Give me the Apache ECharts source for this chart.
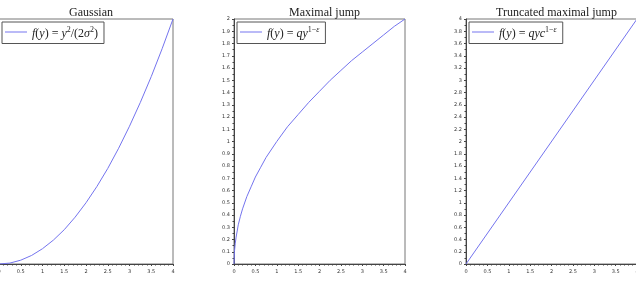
<!DOCTYPE html>
<html>
<head>
<meta charset="utf-8">
<script src="https://cdn.jsdelivr.net/npm/echarts@6/dist/echarts.min.js"></script>
<style>
  html, body { margin: 0; padding: 0; background: #fff; }
  #chart { width: 636px; height: 293px; }
</style>
</head>
<body>
<div id="chart"></div>
<script>
// values
const gaussX = [0, 0.25, 0.5, 0.75, 1, 1.25, 1.5, 1.75, 2, 2.25, 2.5, 2.75, 3, 3.25, 3.5, 3.75, 4]
const gaussY = [0, 0.03, 0.125, 0.28, 0.5, 0.78, 1.12, 1.53, 2, 2.53, 3.12, 3.78, 4.5, 5.28, 6.12, 7.03, 8]

const jumpX = [0, 0.01, 0.03, 0.05, 0.1, 0.15, 0.2, 0.3, 0.4, 0.5, 0.625, 0.75, 1, 1.25, 1.5, 1.75, 2, 2.25, 2.5, 2.75, 3, 3.25, 3.5, 3.75, 4]
const jumpY = [0, 0.1, 0.17, 0.22, 0.32, 0.39, 0.45, 0.55, 0.63, 0.71, 0.79, 0.87, 1, 1.12, 1.22, 1.32, 1.41, 1.5, 1.58, 1.66, 1.73, 1.8, 1.87, 1.94, 2]

const truncX = [0, 4]
const truncY = [0, 4]

const titles = ['Gaussian', 'Maximal jump', 'Truncated maximal jump']
const names = ['gauss', 'jump', 'trunc']

const lineColor = '#7474ee'
const serif = '"Liberation Serif", "DejaVu Serif", serif'

const rich = {
  i: { fontFamily: serif, fontStyle: 'italic', fontSize: 12, color: '#222' },
  r: { fontFamily: serif, fontSize: 12, color: '#222' },
  s: { fontFamily: serif, fontSize: 8, color: '#222', padding: [0, 0, 7, 0] },
  si: { fontFamily: serif, fontStyle: 'italic', fontSize: 8, color: '#222', padding: [0, 0, 7, 0] },
}
const legendText = {
  gauss: '{i|f}{r|(}{i|y}{r|) = }{i|y}{s|2}{r|/(2}{i|σ}{s|2}{r|)}',
  jump: '{i|f}{r|(}{i|y}{r|) = }{i|qy}{s|1−}{si|ε}',
  trunc: '{i|f}{r|(}{i|y}{r|) = }{i|qyc}{s|1−}{si|ε}',
}

const grids = [
  { left: -1, top: 19, width: 174, height: 245 },
  { left: 234, top: 19, width: 171, height: 245 },
  { left: 466, top: 19, width: 171, height: 245 },
]
const yMax = [8, 2, 4]
const yStep = [1, 0.1, 0.2]

const pair = (xs, ys) => xs.map((x, i) => [x, ys[i]])
const seriesData = [pair(gaussX, gaussY), pair(jumpX, jumpY), pair(truncX, truncY)]

const tickLabel = { fontSize: 5, color: '#333', fontFamily: 'DejaVu Sans' }

const options = {
  animation: false,
  title: titles.map((t, i) => ({
    text: t,
    left: grids[i].left + grids[i].width / 2,
    top: 2,
    textAlign: 'center',
    textStyle: { fontFamily: serif, fontWeight: 'normal', fontSize: 12, color: '#222' },
  })),
  legend: names.map((n, i) => ({
    data: [n],
    left: grids[i].left + 3,
    top: 22,
    orient: 'vertical',
    padding: [4, 6, 4, 3],
    itemGap: 0,
    icon: 'rect',
    itemWidth: 22,
    itemHeight: 1,
    borderColor: '#555',
    borderWidth: 1,
    borderRadius: 0,
    backgroundColor: '#fff',
    formatter: () => legendText[n],
    textStyle: { rich: rich, fontFamily: serif, fontSize: 12, padding: [3, 0, 0, 0] },
  })),
  grid: grids.map(g => Object.assign({
    show: true, borderColor: '#777', borderWidth: 1, outerBoundsMode: 'none', containLabel: false,
  }, g)),
  xAxis: grids.map((g, i) => ({
    type: 'value',
    gridIndex: i,
    min: 0,
    max: 4,
    interval: 0.5,
    axisLine: { show: true, onZero: false, lineStyle: { color: '#444', width: 1 } },
    axisTick: { show: true, length: 2, lineStyle: { color: '#444' } },
    minorTick: { show: true, splitNumber: 5, length: 1.5, lineStyle: { color: '#444' } },
    splitLine: { show: false },
    axisLabel: Object.assign({ margin: 5 }, tickLabel),
  })),
  yAxis: grids.map((g, i) => ({
    type: 'value',
    gridIndex: i,
    min: 0,
    max: yMax[i],
    interval: yStep[i],
    axisLine: { show: i > 0, onZero: false, lineStyle: { color: '#444', width: 1 } },
    axisTick: { show: i > 0, length: 2, lineStyle: { color: '#444' } },
    minorTick: { show: i > 0, splitNumber: 2, length: 1.5, lineStyle: { color: '#444' } },
    splitLine: { show: false },
    axisLabel: Object.assign({ margin: 4, show: i > 0 }, tickLabel),
  })),
  series: names.map((n, i) => ({
    name: n,
    type: 'line',
    xAxisIndex: i,
    yAxisIndex: i,
    data: seriesData[i],
    smooth: false,
    symbol: 'none',
    lineStyle: { color: lineColor, width: 1 },
    itemStyle: { color: lineColor },
  })),
}

const chart = echarts.init(document.getElementById('chart'))
chart.setOption(options)
</script>
</body>
</html>
